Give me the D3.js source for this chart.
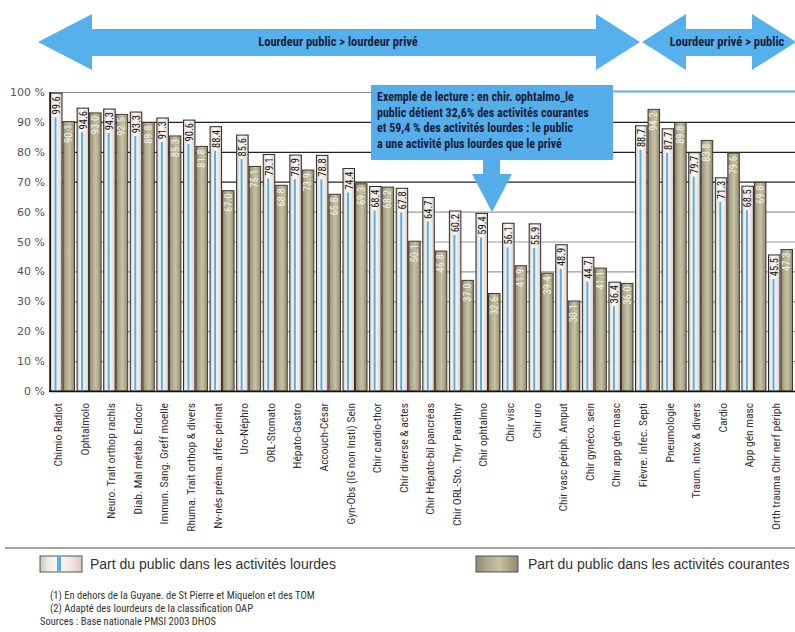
<!DOCTYPE html>
<html><head><meta charset="utf-8">
<script src="https://cdn.jsdelivr.net/npm/d3@7"></script>
<style>
body{margin:0;background:#fff;}
svg{display:block;}
.narrow{font-family:"Liberation Sans Narrow","Arial Narrow","Roboto Condensed","Liberation Sans",Arial,sans-serif;}
</style></head>
<body>
<svg id="c" width="795" height="632"></svg>
<script>
const categories = ["Chimio Radiot","Ophtalmolo","Neuro. Trait orthop rachis","Diab. Mal métab. Endocr","Immun. Sang. Greff moelle","Rhuma. Trait orthop & divers","Nv-nés préma. affec périnat","Uro-Néphro","ORL-Stomato","Hépato-Gastro","Accouch-César","Gyn-Obs (IG non Insti) Sein","Chir cardio-thor","Chir diverse & actes","Chir Hépato-bil pancréas","Chir ORL-Sto. Thyr Parathyr","Chir ophtalmo","Chir visc","Chir uro","Chir vasc périph. Amput","Chir gynéco. sein","Chir app gén masc","Fièvre. Infec. Septi","Pneumologie","Traum. intox & divers","Cardio","App gén masc","Orth trauma Chir nerf périph"];
const lourdes = [99.6,94.6,94.3,93.3,91.3,90.6,88.4,85.6,79.1,78.9,78.8,74.4,68.4,67.8,64.7,60.2,59.4,56.1,55.9,48.9,44.7,36.4,88.7,87.7,79.7,71.3,68.5,45.5];
const courantes = [90.1,93.0,92.5,89.8,85.3,81.8,67.0,75.1,68.8,73.9,65.8,69.3,68.2,50.1,46.8,37.0,32.6,41.9,39.4,30.1,41.1,36.0,94.2,89.8,83.8,79.6,69.8,47.3];
const yTicks = [0,10,20,30,40,50,60,70,80,90,100];
const seriesNames = ["Part du public dans les activités lourdes","Part du public dans les activités courantes"];
const arrowLabels = ["Lourdeur public > lourdeur privé","Lourdeur privé > public"];
const noteLines = ["Exemple de lecture : en chir. ophtalmo_le","public détient 32,6% des activités courantes","et 59,4 % des activités lourdes : le public","a une activité plus lourdes que le privé"];
const footnotes = ["(1) En dehors de la Guyane. de St Pierre et Miquelon et des TOM","(2) Adapté des lourdeurs de la classification OAP","Sources : Base nationale PMSI 2003 DHOS"];

const svg = d3.select("#c");
const defs = svg.append("defs");
const gPub = defs.append("linearGradient").attr("id","gPub").attr("x1","0").attr("x2","1").attr("y1","0").attr("y2","0");
[["0%","#c9c5bd"],["20%","#ecebe6"],["45%","#fbfaf6"],["75%","#f1e6df"],["100%","#d9c8c0"]].forEach(s=>gPub.append("stop").attr("offset",s[0]).attr("stop-color",s[1]));
const gPri = defs.append("linearGradient").attr("id","gPri").attr("x1","0").attr("x2","1").attr("y1","0").attr("y2","0");
[["0%","#8f8b72"],["30%","#b3ae90"],["55%","#c6c2a2"],["80%","#aaa588"],["100%","#8c876e"]].forEach(s=>gPri.append("stop").attr("offset",s[0]).attr("stop-color",s[1]));

const x = d3.scaleBand().domain(categories).range([50, 793]).paddingInner(0.06).paddingOuter(0);
const xs = d3.scaleBand().domain(["l","c"]).range([0, x.bandwidth()]);
const y = d3.scaleLinear().domain([0,100]).range([391,92]);

// gridlines
const gridColor = v => (v===90||v===70||v===80) ? "#222" : (v===100 ? "#8a8a8a" : "#9a9a9a");
svg.append("g").selectAll("line").data(yTicks.filter(v=>v>0)).join("line")
  .attr("x1",50).attr("x2", d=> d===100 ? 613 : 795)
  .attr("y1",d=>y(d)+0.5).attr("y2",d=>y(d)+0.5)
  .attr("stroke",gridColor).attr("stroke-width",1.2);
svg.append("line").attr("x1",613).attr("x2",795).attr("y1",y(100)-0.5).attr("y2",y(100)-0.5).attr("stroke","#5ab2ec").attr("stroke-width",2);

// y axis labels
svg.append("g").selectAll("text").data(yTicks).join("text")
  .attr("x",45).attr("y",d=>y(d)+4).attr("text-anchor","end")
  .attr("font-family","DejaVu Sans, Verdana, sans-serif").attr("font-size",11).attr("fill","#555")
  .text(d=>d+" %");

// bars
const groups = svg.append("g").selectAll("g").data(categories).join("g")
  .attr("transform",d=>`translate(${x(d)},0)`);

groups.each(function(cat,i){
  const g = d3.select(this);
  const bw = xs.bandwidth();
  const v1 = lourdes[i], v2 = courantes[i];
  const x1 = xs("l"), x2 = xs("c");
  g.append("rect").attr("x",x1+0.5).attr("y",y(v1)).attr("width",bw-1).attr("height",y(0)-y(v1))
    .attr("fill","url(#gPub)").attr("stroke","#2a2a2a").attr("stroke-width",1);
  g.append("rect").attr("x",x1+bw*0.36).attr("y",y(v1)+24).attr("width",2).attr("height",Math.max(0,y(0)-y(v1)-24))
    .attr("fill","#58aee8");
  g.append("rect").attr("x",x2+0.5).attr("y",y(v2)).attr("width",bw-1).attr("height",y(0)-y(v2))
    .attr("fill","url(#gPri)").attr("stroke","#3d3a30").attr("stroke-width",1);
  g.append("text").attr("class","narrow")
    .attr("transform",`translate(${x1+bw/2+3.8},${y(v1)+3}) rotate(-90)`)
    .attr("text-anchor","end").attr("font-size",10.5).attr("fill","#111")
    .text(v1.toFixed(1));
  g.append("text").attr("class","narrow")
    .attr("transform",`translate(${x2+bw/2+3.4},${y(v2)+3}) rotate(-90)`)
    .attr("text-anchor","end").attr("font-size",10.5).attr("fill","#f4f2ea")
    .text(v2.toFixed(1));
});

// axes lines
svg.append("line").attr("x1",50).attr("x2",50).attr("y1",y(100)).attr("y2",y(0)+1).attr("stroke","#111").attr("stroke-width",1.5);
svg.append("line").attr("x1",49).attr("x2",795).attr("y1",y(0)+0.5).attr("y2",y(0)+0.5).attr("stroke","#111").attr("stroke-width",1.5);

// category labels
svg.append("g").selectAll("text").data(categories).join("text").attr("class","narrow")
  .attr("transform",d=>`translate(${x(d)+12},403) rotate(-90)`)
  .attr("text-anchor","end").attr("font-size",11.5).attr("fill","#333")
  .text(d=>d);

// top arrows
const blue = "#55b0ec";
function dblArrow(xl, hl, hr, xr, cy){
  const p = d3.path();
  p.moveTo(xl,cy); p.lineTo(hl,cy-28); p.lineTo(hl,cy-13); p.lineTo(hr,cy-13); p.lineTo(hr,cy-28);
  p.lineTo(xr,cy); p.lineTo(hr,cy+28); p.lineTo(hr,cy+14); p.lineTo(hl,cy+14); p.lineTo(hl,cy+28); p.closePath();
  return p.toString();
}
svg.append("path").attr("d",dblArrow(38,92,596,640,42)).attr("fill",blue);
svg.append("path").attr("d",dblArrow(642,686,752,796,42)).attr("fill",blue);
svg.append("text").attr("class","narrow").attr("x",338).attr("y",46).attr("text-anchor","middle")
  .attr("font-size",12.5).attr("font-weight","bold").attr("fill","#1a1f3a").text(arrowLabels[0]);
svg.append("text").attr("class","narrow").attr("x",727).attr("y",46).attr("text-anchor","middle")
  .attr("font-size",12.5).attr("font-weight","bold").attr("fill","#1a1f3a").text(arrowLabels[1]);

// annotation box
svg.append("rect").attr("x",371).attr("y",85).attr("width",242).attr("height",75).attr("fill","#55aeea");
const dp = d3.path();
dp.moveTo(483,159); dp.lineTo(500,159); dp.lineTo(500,174); dp.lineTo(512,174); dp.lineTo(492,212); dp.lineTo(472,174); dp.lineTo(483,174); dp.closePath();
svg.append("path").attr("d",dp.toString()).attr("fill","#55aeea");
svg.append("g").selectAll("text").data(noteLines).join("text").attr("class","narrow")
  .attr("x",377).attr("y",(d,i)=>101+i*15.5).attr("font-size",12).attr("font-weight","bold").attr("fill","#16203c")
  .text(d=>d);

// legend
svg.append("line").attr("x1",5).attr("x2",795).attr("y1",548).attr("y2",548).attr("stroke","#a3a3a3").attr("stroke-width",2);
function swatch(xp, yp, fill, pub){
  svg.append("rect").attr("x",xp).attr("y",yp).attr("width",42).attr("height",16).attr("fill",fill).attr("stroke","#555").attr("stroke-width",1);
  if(pub) svg.append("rect").attr("x",xp+17).attr("y",yp+0.5).attr("width",4).attr("height",15).attr("fill","#58aee8");
}
swatch(40,556,"url(#gPub)",true);
svg.append("text").attr("x",90).attr("y",569).attr("font-family","Liberation Sans, Arial, sans-serif").attr("font-size",14).attr("fill","#333").text(seriesNames[0]);
swatch(476,556,"url(#gPri)",false);
svg.append("text").attr("x",528).attr("y",569).attr("font-family","Liberation Sans, Arial, sans-serif").attr("font-size",14).attr("fill","#333").text(seriesNames[1]);

// footnotes
svg.append("g").selectAll("text").data(footnotes).join("text").attr("class","narrow")
  .attr("x",(d,i)=> i<2 ? 50 : 40).attr("y",(d,i)=>599+i*13).attr("font-size",10.5).attr("fill","#333")
  .text(d=>d);
</script>
</body></html>
